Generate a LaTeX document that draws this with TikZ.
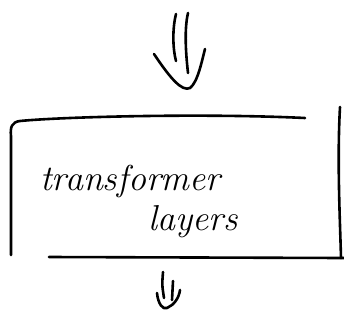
\documentclass[tikz,border=0pt]{standalone}
\usepackage{tikz}

\begin{document}
\begin{tikzpicture}[x=1pt, y=-1pt, line cap=round, line join=round,
    pen/.style={line width=2.6pt, black},
    scrawl/.style={font=\fontsize{36}{42}\selectfont\itshape, inner sep=0pt}]
    \useasboundingbox (0,0) rectangle (344,324);

    % box, left open at the bottom corner
    \draw[pen] (305,118) .. controls (200,113) and (60,117) .. (20,121)
        .. controls (12,122) and (10,127) .. (11,136) -- (11,255);
    \draw[pen] (340,107) .. controls (337,160) and (340,220) .. (341,258);
    \draw[pen] (49,257) -- (344,258);

    % input arrow
    \draw[pen] (176,14) .. controls (172,30) and (173,50) .. (176,61);
    \draw[pen] (188,13) .. controls (184,30) and (186,55) .. (188,73);
    \draw[pen] (154,54) .. controls (170,78) and (182,92) .. (190,88)
        .. controls (198,82) and (202,60) .. (205,49);

    % output arrow
    \draw[pen] (163,272) .. controls (162,285) .. (164,298);
    \draw[pen] (173,281) -- (172,300);
    \draw[pen] (157,293) .. controls (158,304) and (163,310) .. (167,308)
        .. controls (174,305) and (179,298) .. (180,290);

    \node[scrawl, anchor=base west] (word1) at (40,190) {transformer};
    \node[scrawl, anchor=base west] (word2) at (148,230) {layers};
\end{tikzpicture}
\end{document}
